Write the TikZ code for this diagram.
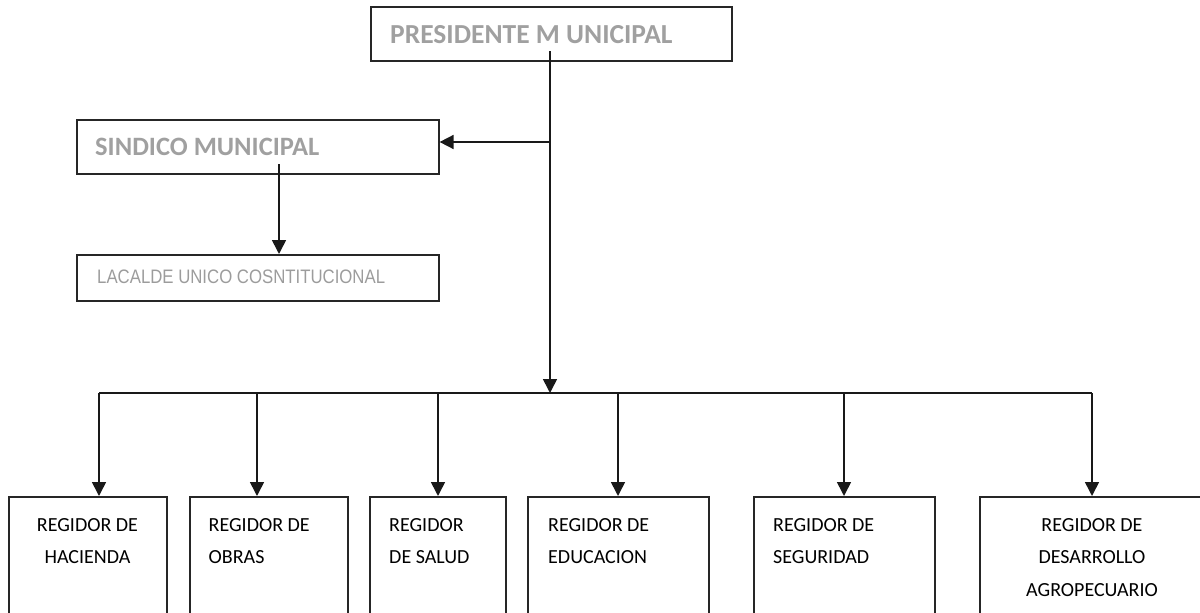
\documentclass[tikz,border=0pt]{standalone}
\usepackage{fontspec}
\setmainfont{Carlito}
\newfontfamily\narrowfont[FakeStretch=0.86]{Liberation Sans}
\usetikzlibrary{arrows.meta}
\definecolor{txtgray}{HTML}{A0A0A0}
\definecolor{lightgray}{HTML}{9C9C9C}
\tikzset{
  box/.style={draw=black!85, line width=1.6pt, inner sep=0pt, anchor=north west},
  conn/.style={draw=black!90, line width=1.6pt},
  arr/.style={conn, -{Triangle[width=14pt,length=14pt]}},
  headtxt/.style={font=\bfseries\fontsize{27.5}{30}\selectfont, text=txtgray, anchor=base west, inner sep=0pt},
  subtxt/.style={font=\bfseries\fontsize{26.5}{30}\selectfont, text=txtgray, anchor=base west, inner sep=0pt},
  smalltxt/.style={font=\narrowfont\fontsize{19.5}{22}\selectfont, text=lightgray, anchor=base west, inner sep=0pt},
  regtxt/.style={font=\fontsize{20}{32.5}\selectfont, text=black, inner sep=0pt, anchor=north},
  regtxtl/.style={regtxt, align=left, anchor=north west},
  regtxtc/.style={regtxt, align=center},
}
\begin{document}
\begin{tikzpicture}[x=1pt,y=-1pt]
\useasboundingbox (0,0) rectangle (1200,613);
\clip (0,0) rectangle (1200,613);
% top boxes
\node[box, minimum width=361pt, minimum height=54pt] (pres) at (370,6) {};
\node[headtxt] (presT) at (390,43) {PRESIDENTE M UNICIPAL};
\node[box, minimum width=362pt, minimum height=54pt] (sind) at (76,119) {};
\node[subtxt] (sindT) at (95,155) {SINDICO MUNICIPAL};
\node[box, minimum width=362pt, minimum height=46pt] (alc) at (76,254) {};
\node[smalltxt] (alcT) at (97,283) {LACALDE UNICO COSNTITUCIONAL};
% bottom boxes (extend past the lower edge)
\node[box, minimum width=158pt, minimum height=160pt] (r1) at (8,496) {};
\node[box, minimum width=158pt, minimum height=160pt] (r2) at (189,496) {};
\node[box, minimum width=136pt, minimum height=160pt] (r3) at (369,496) {};
\node[box, minimum width=181pt, minimum height=160pt] (r4) at (527,496) {};
\node[box, minimum width=181pt, minimum height=160pt] (r5) at (753,496) {};
\node[box, minimum width=240pt, minimum height=160pt] (r6) at (979,496) {};
\node[regtxtc] (r1T) at (87.5,518) {REGIDOR DE\\HACIENDA};
\node[regtxtl] (r2T) at (208.5,518) {REGIDOR DE\\OBRAS};
\node[regtxtl] (r3T) at (389,518) {REGIDOR\\DE SALUD};
\node[regtxtl] (r4T) at (548,518) {REGIDOR DE\\EDUCACION};
\node[regtxtl] (r5T) at (773,518) {REGIDOR DE\\SEGURIDAD};
\node[regtxtc] (r6T) at (1092,518) {REGIDOR DE\\DESARROLLO\\AGROPECUARIO};
% connectors
\coordinate (t0) at (550,51);
\coordinate (tS) at (550,142);
\coordinate (bus) at (550,393);
\coordinate (busL) at (99,393);
\coordinate (busR) at (1092,393);
\coordinate (s0) at (279,164);
\draw[conn] (t0) -- (tS);
\draw[arr] (t0) -- (bus);
\draw[arr] (tS) -- (sind.east |- tS);
\draw[arr] (s0) -- (alc.north -| s0);
\draw[conn] (busL) -- (busR);
\draw[arr] (busL) -- (r1.north -| busL);
\draw[arr] (257,393) coordinate (b2) -- (r2.north -| b2);
\draw[arr] (438,393) coordinate (b3) -- (r3.north -| b3);
\draw[arr] (618,393) coordinate (b4) -- (r4.north -| b4);
\draw[arr] (844,393) coordinate (b5) -- (r5.north -| b5);
\draw[arr] (busR) -- (r6.north -| busR);
\end{tikzpicture}
\end{document}
